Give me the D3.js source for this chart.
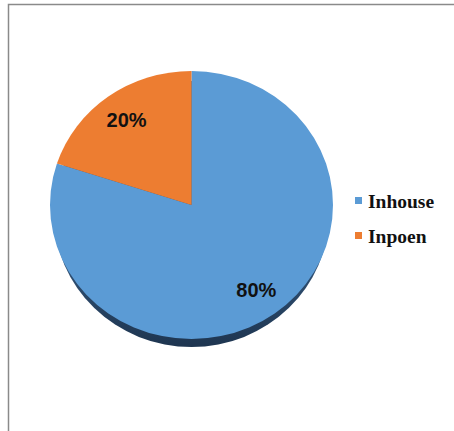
<!DOCTYPE html>
<html>
<head>
<meta charset="utf-8">
<script src="https://cdn.jsdelivr.net/npm/d3@7"></script>
<style>
  html, body { margin: 0; padding: 0; background: #fff; }
  svg { display: block; }
</style>
</head>
<body>
<svg id="chart" width="454" height="431"></svg>
<script>
// Share of work done in house versus outsourced
const categories = ["Inhouse", "Inpoen"];
const values = [80, 20];
const colors = ["#5b9bd5", "#ed7d31"];

const svg = d3.select("#chart");

// Frame around the chart area (left and top edges)
svg.append("path")
  .attr("d", "M8.5,431 L8.5,4.5 L454,4.5")
  .attr("fill", "none")
  .attr("stroke", "#8a8a8a")
  .attr("stroke-width", 1.5);

const cx = 191.5, cy = 205, r = 141.5, squash = 0.947, depth = 9;

const pie = d3.pie().sort(null).value(d => d)(values);
const arc = d3.arc().innerRadius(0).outerRadius(r);
const total = d3.sum(values);

const defs = svg.append("defs");
const rimGrad = defs.append("linearGradient")
  .attr("id", "rim").attr("x1", 0).attr("x2", 0).attr("y1", 0).attr("y2", 1);
rimGrad.append("stop").attr("offset", "0.6").attr("stop-color", "#35597f");
rimGrad.append("stop").attr("offset", "1").attr("stop-color", "#1e3550");

// Side of the tilted disc, peeking out below the top face
svg.append("ellipse")
  .attr("cx", cx).attr("cy", cy + depth)
  .attr("rx", r - 4).attr("ry", r * squash - 1)
  .attr("fill", "url(#rim)");

const g = svg.append("g")
  .attr("transform", `translate(${cx},${cy}) scale(1,${squash})`);

g.selectAll("path.slice")
  .data(pie)
  .join("path")
  .attr("class", "slice")
  .attr("d", arc)
  .attr("fill", (d, i) => colors[i]);

// Percentage labels inside each slice
const labelArc = d3.arc().innerRadius(r * 0.78).outerRadius(r * 0.78);
svg.selectAll("text.pct")
  .data(pie)
  .join("text")
  .attr("class", "pct")
  .attr("x", d => cx + labelArc.centroid(d)[0])
  .attr("y", d => cy + labelArc.centroid(d)[1] * squash)
  .attr("text-anchor", "middle")
  .attr("dominant-baseline", "central")
  .attr("font-family", "'Liberation Sans', Arial, sans-serif")
  .attr("font-weight", "bold")
  .attr("font-size", 20)
  .attr("fill", "#111")
  .text(d => Math.round(d.data / total * 100) + "%");

// Legend
const legend = svg.append("g").attr("transform", "translate(355,197)");
const item = legend.selectAll("g")
  .data(categories)
  .join("g")
  .attr("transform", (d, i) => `translate(0,${i * 35})`);
item.append("rect")
  .attr("width", 7).attr("height", 7)
  .attr("fill", (d, i) => colors[i]);
item.append("text")
  .attr("x", 13).attr("y", 11)
  .attr("font-family", "'Liberation Serif', 'Times New Roman', serif")
  .attr("font-weight", "bold")
  .attr("font-size", 19.5)
  .attr("fill", "#111")
  .text(d => d);
</script>
</body>
</html>
